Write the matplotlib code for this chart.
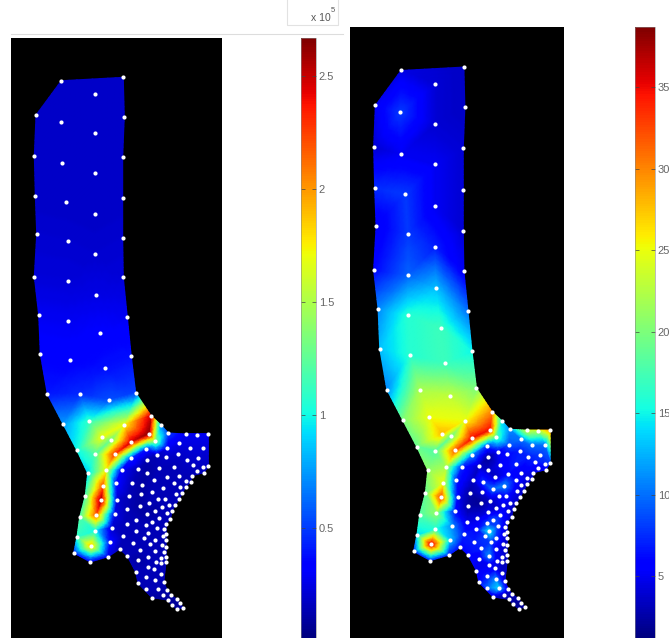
import matplotlib
matplotlib.use("Agg")
import matplotlib.pyplot as plt
import matplotlib.tri as mtri
import numpy as np
from matplotlib.path import Path

plt.rcParams["font.family"] = ["Liberation Sans", "DejaVu Sans"]

# node positions are shared by both panels, values differ
shank_x = [61.3, 123.3, 95.3, 36, 60.7, 124.3, 94.7, 34.3, 61.7, 122.7, 94.7, 35.3, 65.7, 122.7, 94.7,
           36.7, 68, 122.7, 94.7, 34.3, 68, 123.3, 96, 38.7, 68, 127.3, 100.3, 40.3, 69.7, 131.3, 105]
shank_y = [80.7, 77.3, 93.7, 115, 121.7, 116.7, 133.3, 155.7, 163, 157.3, 173, 196, 202.3, 198.3, 214,
           233.7, 241.3, 238, 254.3, 276.7, 281.3, 277.3, 294.7, 315.3, 321, 316.7, 333.3, 354, 360.3, 356.3, 368]
shank_left = [.18, .18, .18, .18, .18, .18, .18, .18, .18, .18, .18, .18, .18, .18, .18,
              .2, .2, .2, .2, .22, .22, .22, .25, .28, .28, .28, .32, .33, .33, .38, .38]
shank_right = [4.5, 3.5, 4, 5, 8, 3.5, 4, 4, 5, 4, 5, 7.5, 8, 4, 5,
               5, 8, 4, 7, 6, 9.5, 5, 13, 11, 16, 10, 17, 13, 16, 15, 17]

neck_x = [47.3, 79.7, 109.3, 135.7, 63, 89, 124, 151, 161, 76.7, 101.7, 111, 131.3, 148.7, 155,
          95.3, 115, 87.7, 106, 102.7, 101, 85.3, 96, 79.7, 95.3, 77, 91, 73.7, 90.3]
neck_y = [394, 394, 400, 392.7, 424, 421, 424.7, 415.7, 425, 450, 437.3, 440, 442, 434, 441,
          454.3, 453.7, 473.3, 470, 485.7, 500, 495.7, 515, 517, 530.7, 536.7, 546, 553, 562]
neck_left = [.4, .45, .55, .5, .75, 1.1, 1.7, 2.5, .7, 1.0, 1.7, 1.3, 2.5, 2.65, 1.4,
             1.2, 2.3, .9, 1.7, 2.2, 2.62, 1.2, 2.2, 1.2, 1.0, 1.1, 1.9, .4, .28]
neck_right = [11, 22, 23, 20, 20, 25, 25, 30, 14, 19, 28, 19, 35, 35, 18,
              18, 32, 21, 22, 25, 33, 19, 21, 18, 16, 14, 37, 7, 7]

foot_x = [168.3, 185.7, 196.7, 208.3,
          146.3, 167.3, 179.3, 190, 203,
          131.3, 147, 157, 166, 178.3, 186.7, 198.3,
          138, 158.7, 174.3, 193.3, 203, 208.3, 121.7,
          147, 167, 179.3, 191.7, 196.7, 204,
          116, 132, 142.3, 154.3, 174.3, 185.7, 190.7,
          117.3, 129, 141.3, 152, 162.7, 180, 185.7,
          157.7, 165.3, 176, 182.3, 179,
          127.3, 139.7, 149.3, 162, 169, 175,
          115, 154.7, 166.7, 172.3,
          147, 159.3, 170.3,
          126.7, 136.3, 152, 166,
          111.7, 146, 157, 163.7,
          135.7, 123.3, 148.3, 162.7, 166,
          144, 154.7, 166,
          110, 133.3, 149.7, 161.7, 166,
          119.7, 139.7, 155, 163.7,
          108.3, 127.3, 148, 161.3, 166,
          138, 155.7, 166, 160.7,
          148, 153.7, 161,
          135.7, 146.3, 154.7, 163.7,
          138, 146.3, 157.7, 167,
          152, 162.7, 170.7, 176.7, 167.7, 171.7, 180, 183.3, 177.3]
foot_y = [433, 434, 435, 434,
          449.3, 448, 443, 448, 448,
          458.3, 460, 455.3, 457.3, 454.3, 460, 458,
          469, 468.3, 467, 465.3, 467, 466, 470,
          473.3, 476.7, 475.7, 475.7, 471, 472.7,
          483.3, 483.3, 485, 480, 482.7, 480.7, 481.7,
          499.7, 495.7, 494.3, 491.7, 488.3, 487.3, 486.7,
          499, 499, 493.7, 493.3, 499.3,
          508.7, 505.7, 503.3, 507, 505.3, 505.3,
          513.7, 510.7, 513, 511,
          514.3, 517.7, 518.7,
          523.7, 520.3, 522.3, 524,
          527.7, 525.3, 528.3, 529,
          531, 536, 533.3, 535.7, 534,
          538.3, 540, 540,
          541.7, 543.3, 544, 545.3, 546.7,
          549, 550, 551, 551.7,
          556.7, 556.3, 557.3, 558.3, 556.7,
          560, 562, 562, 563.3,
          566.7, 569, 574,
          572, 577.3, 580.3, 582.3,
          583, 589, 589, 589.7,
          597.7, 595.3, 595, 599, 600, 605, 603.3, 607.7, 609.3]
foot_left = [.5, .28, .28, .28,
             .4, .28, .25, .22, .22,
             .45, .12, .14, .18, .18, .18, .2,
             .14, .14, .14, .17, .17, .17, .3,
             .1, .14, .14, .14, .14, .14,
             .35, .14, .1, .14, .14, .14, .14,
             .2, .14, .1, .14, .14, .14, .14,
             .14, .14, .14, .14, .14,
             .14, .1, .14, .14, .14, .14,
             .25, .1, .14, .14,
             .1, .14, .14,
             .14, .14, .14, .14,
             .2, .14, .14, .14,
             .14, .14, .14, .14, .14,
             .14, .14, .14,
             .35, .14, .14, .14, .14,
             .14, .14, .14, .14,
             .25, .14, .14, .14, .14,
             .1, .14, .14, .14,
             .14, .14, .14,
             .14, .14, .14, .14,
             .14, .14, .14, .1,
             .1, .1, .1, .08, .08, .08, .08, .08, .08]
foot_right = [11, 24, 22, 30,
              8, 9, 10, 10, 10,
              11, 2, 5, 6, 7, 7, 8,
              3.5, 5, 7, 7, 7, 8, 7,
              3.5, 6, 5, 4.5, 5, 5,
              7, 3.5, 8, 3.5, 6, 4.5, 3.5,
              5, 2.5, 4, 10, 11, 4.5, 3.5,
              5, 6, 4.5, 3.5, 3.5,
              2.5, 2, 3.5, 5, 4.5, 3.5,
              6, 3.5, 4.5, 3,
              4.5, 7, 3.5,
              4.5, 4.5, 9, 4.5,
              11, 8, 8, 4.5,
              6, 7, 15, 5, 3.5,
              8, 8, 3.5,
              13, 7, 8, 4.5, 3,
              6, 7, 5, 3.5,
              7, 6, 11, 4.5, 3,
              5, 5, 3, 3.5,
              5, 5, 3.5,
              5, 7, 11, 4.5,
              6, 10, 14, 4.5,
              3.5, 3.5, 3, 2.5, 2.5, 2, 2, 2, 2]

outline_x = [61.3, 123.3, 124.3, 122.7, 122.7, 122.7, 123.3, 127.3, 131.3, 135.7, 151, 161, 168.3, 208.3, 208.3,
             204, 191.7, 190.7, 185.7, 182.3, 175, 172.3, 170.3, 166, 166, 166, 163.7, 167, 170.7, 176.7, 183.3,
             177.3, 167.7, 152, 138, 135.7, 127.3, 119.7, 108.3, 90.3, 73.7, 77, 79.7, 85.3, 87.7, 76.7, 63, 47.3,
             40.3, 38.7, 34.3, 36.7, 35.3, 34.3, 36]
outline_y = [80.7, 77.3, 116.7, 157.3, 198.3, 238, 277.3, 316.7, 356.3, 392.7, 415.7, 425, 433, 434, 466,
             472.7, 475.7, 481.7, 486.7, 493.3, 505.3, 511, 518.7, 524, 540, 562, 582.3, 589.7, 595, 599, 607.7,
             609.3, 600, 597.7, 583, 572, 556.3, 549, 556.7, 562, 553, 536.7, 517, 495.7, 473.3, 450, 424, 394,
             354, 315.3, 276.7, 233.7, 196, 155.7, 115]

left_ticks = [0.5, 1, 1.5, 2, 2.5]
left_ticklabels = ["0.5", "1", "1.5", "2", "2.5"]
right_ticks = [5, 10, 15, 20, 25, 30, 35]
right_ticklabels = ["5", "10", "15", "20", "25", "30", "35"]

W, H = 669, 638


def place(fig, x0, y0, x1, y1):
    # pixel box from the top left corner
    return fig.add_axes([x0 / W, 1 - y1 / H, (x1 - x0) / W, (y1 - y0) / H])


def panel(fig, tri, refiner, values, box, vmin, vmax):
    ax = place(fig, *box)
    ax.set_facecolor("black")
    interp = mtri.LinearTriInterpolator(tri, values)
    fine_tri, fine_z = refiner.refine_field(values, triinterpolator=interp, subdiv=3)
    mesh = ax.tripcolor(fine_tri, fine_z, shading="gouraud", cmap="jet", vmin=vmin, vmax=vmax)
    ax.scatter(tri.x, tri.y, s=9, color="white", linewidths=0, zorder=3)
    ax.set_xlim(11, 222)
    ax.set_ylim(638, 38)
    ax.set_xticks([])
    ax.set_yticks([])
    for s in ax.spines.values():
        s.set_visible(False)
    return mesh


def bar(fig, mesh, box, ticks, labels):
    cax = place(fig, *box)
    cb = fig.colorbar(mesh, cax=cax)
    cb.set_ticks(ticks)
    cb.set_ticklabels(labels)
    cb.outline.set_linewidth(0.4)
    cb.outline.set_edgecolor("#888888")
    cax.tick_params(direction="in", left=True, right=True, length=3, width=0.5, color="#444444",
                    labelsize=8, labelcolor="#666666", pad=2)


def main():
    x = np.array(shank_x + neck_x + foot_x, dtype=float)
    y = np.array(shank_y + neck_y + foot_y, dtype=float)
    left_z = np.array(shank_left + neck_left + foot_left, dtype=float)
    right_z = np.array(shank_right + neck_right + foot_right, dtype=float)

    tri = mtri.Triangulation(x, y)
    centres = np.c_[x[tri.triangles].mean(axis=1), y[tri.triangles].mean(axis=1)]
    shape = Path(np.c_[outline_x, outline_y])
    tri.set_mask(~shape.contains_points(centres))
    refiner = mtri.UniformTriRefiner(tri)

    fig = plt.figure(figsize=(W / 100, H / 100), dpi=100, facecolor="white")

    mesh_l = panel(fig, tri, refiner, left_z, (11, 38, 222, 638), 0.012, 2.668)
    bar(fig, mesh_l, (301, 38, 316, 638), left_ticks, left_ticklabels)

    mesh_r = panel(fig, tri, refiner, right_z, (350, 27, 564, 638), 1.2, 38.7)
    bar(fig, mesh_r, (635, 27, 655, 638), right_ticks, right_ticklabels)

    # leftovers of the screenshot around the exponent
    over = fig.add_axes([0, 0, 1, 1], zorder=-1)
    over.set_xlim(0, W)
    over.set_ylim(H, 0)
    over.axis("off")
    over.plot([11, 343], [34, 34], color="#dddddd", lw=0.8)
    over.plot([287, 287, 338, 338], [0, 25, 25, 0], color="#e2e2e2", lw=0.8)
    over.text(311, 18, "x 10", fontsize=7.5, color="#555555", va="center")
    over.text(331, 11, "5", fontsize=5.5, color="#555555", va="center")

    fig.savefig("out.png", dpi=100, facecolor="white")


if __name__ == "__main__":
    main()
